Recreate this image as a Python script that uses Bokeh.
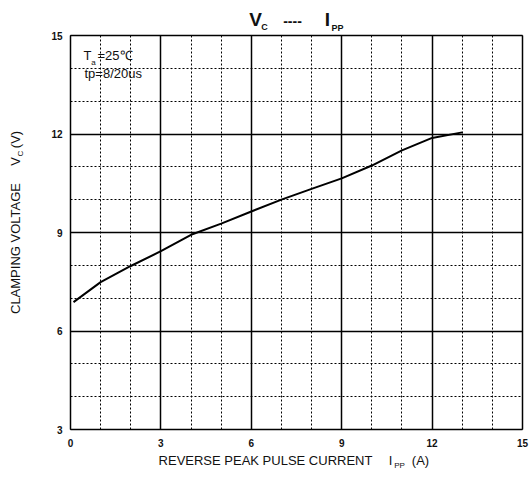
import math
from bokeh.plotting import figure
from bokeh.models import Range1d, SingleIntervalTicker, Label
from bokeh.embed import file_html
from bokeh.resources import INLINE

# data
i_pp = [0.1, 1, 2, 3, 4, 5, 6, 7, 8, 9, 10, 11, 12, 13]
v_c = [6.88, 7.49, 7.98, 8.43, 8.93, 9.27, 9.64, 10.0, 10.33, 10.65, 11.04, 11.5, 11.88, 12.05]
x_lim = (0, 15)
y_lim = (3, 15)
x_ticks_interval = 3
y_ticks_interval = 3

FONT = "Liberation Sans"
W, H = 529, 477
# page layout of the chart frame (pixels on the page)
FX0, FX1, FY0, FY1 = 70, 522, 35, 429
sx = (FX1 - FX0) / (x_lim[1] - x_lim[0])
sy = (FY1 - FY0) / (y_lim[1] - y_lim[0])

def dx(px):
    return x_lim[0] + (px - FX0) / sx

def dy(py):
    return y_lim[1] - (py - FY0) / sy

p = figure(width=W, height=H, output_backend="svg", toolbar_location=None,
           x_range=Range1d(dx(0), dx(W)), y_range=Range1d(dy(H), dy(0)),
           min_border_left=0, min_border_right=0, min_border_top=0, min_border_bottom=0)
p.background_fill_color = "white"
p.border_fill_color = "white"
p.outline_line_color = None

xt = SingleIntervalTicker(interval=x_ticks_interval, num_minor_ticks=3)
yt = SingleIntervalTicker(interval=y_ticks_interval, num_minor_ticks=3)
p.xaxis.ticker = xt
p.yaxis.ticker = yt
p.xaxis.fixed_location = y_lim[0]
p.yaxis.fixed_location = x_lim[0]
p.xaxis.bounds = x_lim
p.yaxis.bounds = y_lim
for ax in (p.xaxis[0], p.yaxis[0]):
    ax.axis_line_color = None
    ax.major_tick_line_color = None
    ax.minor_tick_line_color = None
    ax.major_label_text_font = FONT
    ax.major_label_text_font_style = "bold"
    ax.major_label_text_font_size = "10px"
    ax.major_label_text_color = "#111111"
p.xaxis.major_label_standoff = 3
p.yaxis.major_label_standoff = 2

p.xgrid.bounds = x_lim
p.xgrid.cross_bounds = y_lim
p.ygrid.bounds = y_lim
p.ygrid.cross_bounds = x_lim
for g in (p.xgrid[0], p.ygrid[0]):
    g.grid_line_color = "black"
    g.grid_line_width = 1.5
    g.minor_grid_line_color = "black"
    g.minor_grid_line_width = 1
    g.minor_grid_line_dash = "2 2"

p.line(i_pp, v_c, line_color="black", line_width=2)

def lab(px, py, t, size, bold=False, align="center", angle=0.0):
    p.add_layout(Label(x=dx(px), y=dy(py), text=t, text_font=FONT, text_font_size=size,
                       text_font_style="bold" if bold else "normal",
                       text_align=align, text_baseline="middle", angle=angle,
                       text_color="#111111"))

# title
lab(255, 19, "V", "19px", True)
lab(264, 26, "C", "9px", True)
lab(292, 20, "----", "14px", True)
lab(327, 19, "I", "19px", True)
lab(337, 27, "PP", "9px", True)

# x axis label
lab(265, 460, "REVERSE PEAK PULSE CURRENT", "13px")
lab(390, 460, "I", "13px")
lab(399, 465, "PP", "8px")
lab(420, 460, "(A)", "13px")

# y axis label
half = math.pi / 2
lab(15, 248, "CLAMPING VOLTAGE", "13px", angle=half)
lab(15, 161, "V", "13px", angle=half)
lab(20, 153, "C", "8px", angle=half)
lab(15, 139, "(V)", "13px", angle=half)

# annotations
lab(83, 55, "T", "13px", align="left")
lab(93, 62, "a", "8px")
lab(97, 55, "=25\u2103", "13px", align="left")
lab(84, 73, "tp=8/20us", "13px", align="left")

open("out.html", "w").write(file_html(p, INLINE))
